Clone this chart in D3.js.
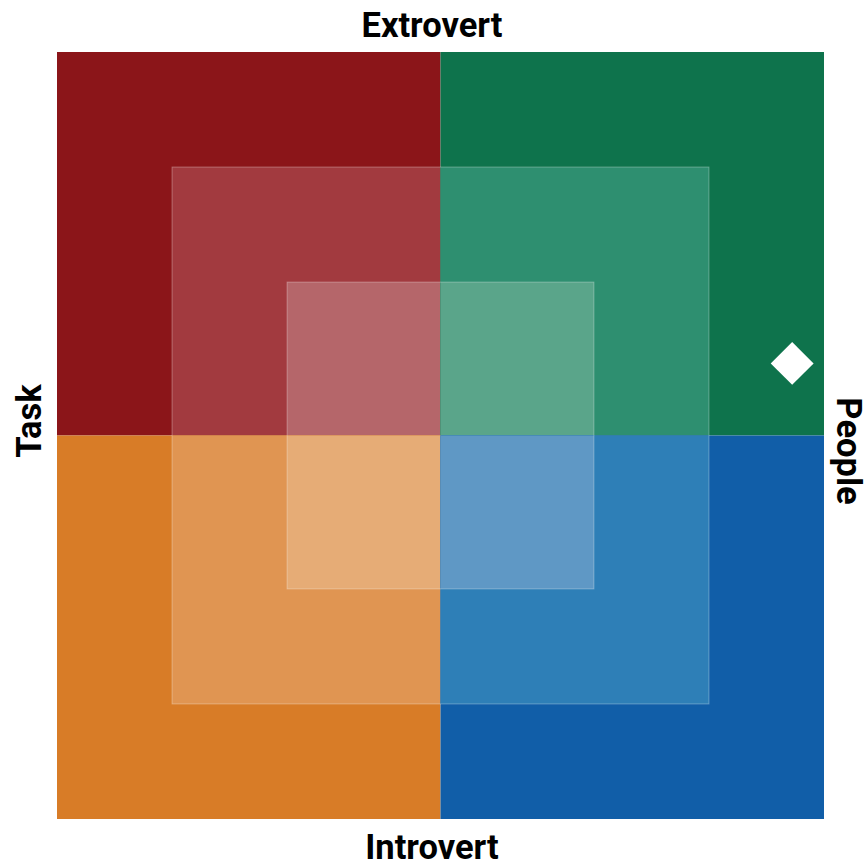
<!DOCTYPE html>
<html lang="en">
<head>
<meta charset="UTF-8">
<title>Extrovert / Introvert, Task / People</title>
<script src="https://d3js.org/d3.v7.min.js"></script>
<style>
  body { margin: 0; background: #fff; }
  .label { font-family: Roboto, "Noto Sans", sans-serif; font-weight: bold; font-size: 34.5px; fill: #000; }
  .ring { fill: none; stroke: #fff; stroke-opacity: 0.3; stroke-width: 1; }
</style>
</head>
<body>
<div id="chart"></div>
<script>
// quadrants: x range, y range, colours from outer band to inner band
const quadrants = [
  { name: "Task-Extrovert",   x: [-1, 0], y: [0, 1],  colors: ["#8B1519", "#A23A3F", "#B5666A"] },
  { name: "People-Extrovert", x: [0, 1],  y: [0, 1],  colors: ["#0E734C", "#2E8F70", "#5AA58A"] },
  { name: "Task-Introvert",   x: [-1, 0], y: [-1, 0], colors: ["#D87C27", "#E09552", "#E6AC76"] },
  { name: "People-Introvert", x: [0, 1],  y: [-1, 0], colors: ["#115EA8", "#2E7FB7", "#5F98C5"] }
];

// band half-widths: outer square, then the two concentric squares
const bands = [1, 0.7, 0.4];

// the plotted point
const points = [{ x: 0.917, y: 0.188 }];

const axisLabels = { top: "Extrovert", bottom: "Introvert", left: "Task", right: "People" };

const W = 868, H = 865;

const x = d3.scaleLinear().domain([-1, 1]).range([57, 824]);
const y = d3.scaleLinear().domain([-1, 1]).range([819, 52]);

const svg = d3.select("#chart").append("svg")
    .attr("width", W)
    .attr("height", H);

// each quadrant cut into its three bands
const cells = [];
quadrants.forEach(q => {
  bands.forEach((b, i) => {
    const x0 = Math.max(q.x[0], -b), x1 = Math.min(q.x[1], b);
    const y0 = Math.max(q.y[0], -b), y1 = Math.min(q.y[1], b);
    cells.push({ x0, x1, y0, y1, color: q.colors[i] });
  });
});

svg.selectAll(".cell")
    .data(cells)
  .enter().append("rect")
    .attr("class", "cell")
    .attr("x", d => x(d.x0))
    .attr("y", d => y(d.y1))
    .attr("width", d => x(d.x1) - x(d.x0))
    .attr("height", d => y(d.y0) - y(d.y1))
    .attr("fill", d => d.color);

svg.selectAll(".ring")
    .data(bands.slice(1))
  .enter().append("rect")
    .attr("class", "ring")
    .attr("x", d => x(-d))
    .attr("y", d => y(d))
    .attr("width", d => x(d) - x(-d))
    .attr("height", d => y(-d) - y(d));

// diamond marker
svg.selectAll(".pt")
    .data(points)
  .enter().append("path")
    .attr("class", "pt")
    .attr("d", d3.symbol().type(d3.symbolSquare).size(920))
    .attr("transform", d => `translate(${x(d.x)},${y(d.y)}) rotate(45)`)
    .attr("fill", "#fff");

// labels
svg.append("text")
    .attr("class", "label")
    .attr("x", 432)
    .attr("y", 37)
    .attr("text-anchor", "middle")
    .text(axisLabels.top);

svg.append("text")
    .attr("class", "label")
    .attr("x", 432)
    .attr("y", 859)
    .attr("text-anchor", "middle")
    .text(axisLabels.bottom);

svg.append("text")
    .attr("class", "label")
    .attr("transform", `translate(41,421) rotate(-90)`)
    .attr("text-anchor", "middle")
    .text(axisLabels.left);

svg.append("text")
    .attr("class", "label")
    .attr("transform", `translate(837,451) rotate(90)`)
    .attr("text-anchor", "middle")
    .text(axisLabels.right);
</script>
</body>
</html>
